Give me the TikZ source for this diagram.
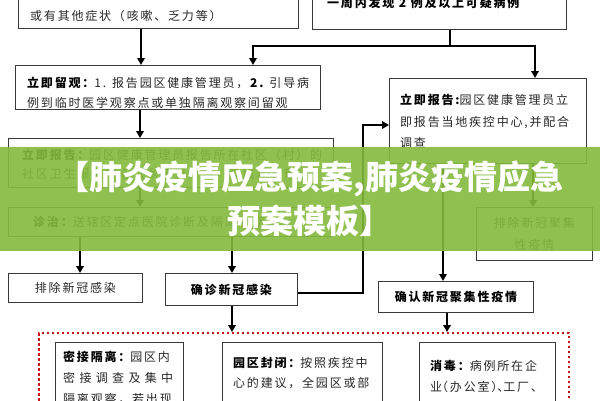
\documentclass[tikz,border=0pt]{standalone}
\usepackage{fontspec}
\setmainfont{Noto Sans CJK SC}
\newfontfamily\cjk{Noto Sans CJK SC}[LetterSpace=15]
\newfontfamily\bannerfont{Noto Sans CJK SC}
\usetikzlibrary{arrows.meta}
\definecolor{bannergreen}{RGB}{132,186,62}
\definecolor{dotred}{RGB}{200,20,20}
\tikzset{
  box/.style={draw=black!78, line width=0.9pt, inner sep=0pt, anchor=north west,
    text=black!85, align=center, font=\cjk\fontsize{12}{22}\selectfont},
  boldbox/.style={box, font=\cjk\bfseries\fontsize{12}{22}\selectfont, text=black},
  txt/.style={anchor=west, inner sep=0pt, align=left, text=black!85,
    font=\cjk\fontsize{12}{#1}\selectfont},
  txt/.default=20,
  ln/.style={line width=2pt, line join=miter},
  arr/.style={ln, -{Triangle[length=7pt,width=7.5pt]}},
  redbox/.style={draw=dotred, line width=2.4pt, dash pattern=on 2.4pt off 2.6pt,
    anchor=north west, inner sep=0pt},
  bannertxt/.style={inner sep=0pt, text=white,
    font=\bannerfont\bfseries\fontsize{33}{33}\selectfont}
}
\begin{document}
\begin{tikzpicture}[x=1pt, y=-1pt]
\useasboundingbox (0,0) rectangle (600,400);
\clip (0,0) rectangle (600,400);
\fill[white] (0,0) rectangle (600,400);

% boxes
\node[box, minimum width=280pt, minimum height=58pt] (b1) at (18,-30) {};
\node[box, minimum width=254pt, minimum height=59pt] (b2) at (312,-30) {};
\node[box, minimum width=305pt, minimum height=44pt] (b3) at (15,65) {};
\node[box, minimum width=197pt, minimum height=85pt] (b4) at (389,78) {};
\node[box, minimum width=325pt, minimum height=49pt] (b5) at (8,138) {};
\node[box, minimum width=325pt, minimum height=29pt] (b6) at (8,207) {};
\node[box, minimum width=116pt, minimum height=53pt] (b7) at (476,207) {排除新冠聚集\\性疫情};
\node[box, minimum width=134pt, minimum height=29pt] (b8) at (8,273) {排除新冠感染};
\node[boldbox, minimum width=132pt, minimum height=32pt] (b9) at (165,273) {确诊新冠感染};
\node[boldbox, minimum width=155pt, minimum height=31pt] (b10) at (378,281) {确认新冠聚集性疫情};
\node[redbox, minimum width=530pt, minimum height=90pt] (red) at (38,332) {};
\node[box, minimum width=128pt, minimum height=80pt] (b11) at (55,342) {};
\node[box, minimum width=160pt, minimum height=80pt] (b12) at (222,342) {};
\node[box, minimum width=136pt, minimum height=80pt] (b13) at (419,342) {};

% texts
\node[txt] (t1) at (30,16) {或有其他症状（咳嗽、乏力等）};
\node[txt, text=black] (t2) at (327,3) {\bfseries 一周内发现 2 例及以上可疑病例};
\node[txt] (t3) at (27,93) {\textbf{\color{black}立即留观：}1. 报告园区健康管理员，\textbf{\color{black}2.} 引导病\\例到临时医学观察点或单独隔离观察间留观};
\node[txt=21.5] (t4) at (400,121.5) {\textbf{\color{black}立即报告:}园区健康管理员立\\即报告当地疾控中心,并配合\\调查};
\node[txt=19] (t5) at (22,164.5) {\textbf{\color{black}立即报告：}园区健康管理员报告所在社区（村）的\\社区卫生服务中心（乡镇卫生院）及属地管理};
\node[txt] (t6) at (33,222) {\textbf{\color{black}诊治：}送辖区定点医院诊断及隔离治疗};
\node[txt=21] (t11) at (63,378) {\textbf{\color{black}密接隔离：}园区内\\\makebox[110pt][s]{密\hfill 接\hfill 调\hfill 查\hfill 及\hfill 集\hfill 中}\\隔离观察，若出现};
\node[txt] (t12) at (233,373) {\textbf{\color{black}园区封闭：}按照疾控中\\心的建议，全园区或部};
\node[txt=21] (t13) at (430,376) {\textbf{\color{black}消毒：}病例所在企\\业\kern-6pt（办公室）\kern-6pt、\kern-6pt工厂、};

% connectors
\draw[arr] ([xshift=123pt]b1.south west) -- ([xshift=123pt]b1.south west |- b3.north);
\coordinate (j) at (450,46);
\draw[ln] ([xshift=138pt]b2.south west) -- (j);
\draw[arr] (j) -| ([xshift=238pt]b3.north west);
\draw[arr] (j) -| ([xshift=146pt]b4.north west);
\draw[arr] ([xshift=125pt]b3.south west) -- ([xshift=125pt]b3.south west |- b5.north);
\draw[arr] ([xshift=132pt]b5.south west) -- ([xshift=132pt]b5.south west |- b6.north);
\draw[arr] ([xshift=72pt]b6.south west) -- ([xshift=72pt]b6.south west |- b8.north);
\draw[arr] ([xshift=224pt]b6.south west) -- ([xshift=224pt]b6.south west |- b9.north);
\coordinate (k) at (363,125);
\draw[arr] ([yshift=-4pt]b9.east) -| (k) -- (k -| b4.west);
\draw[arr] ([xshift=54pt]b4.south west) -- ([xshift=54pt]b4.south west |- b10.north);
\draw[arr] ([xshift=144pt]b4.south west) -- ([xshift=144pt]b4.south west |- b7.north);
\draw[arr] ([xshift=67pt]b9.south west) -- ([xshift=67pt]b9.south west |- red.north);
\draw[arr] ([xshift=69pt]b10.south west) -- ([xshift=69pt]b10.south west |- red.north);

% banner
\fill[bannergreen, opacity=0.9] (0,147) rectangle (600,251);
\node[bannertxt] (bt1) at (310,179) {【肺炎疫情应急预案,肺炎疫情应急};
\node[bannertxt] (bt2) at (310,221) {预案模板】};
\end{tikzpicture}
\end{document}
